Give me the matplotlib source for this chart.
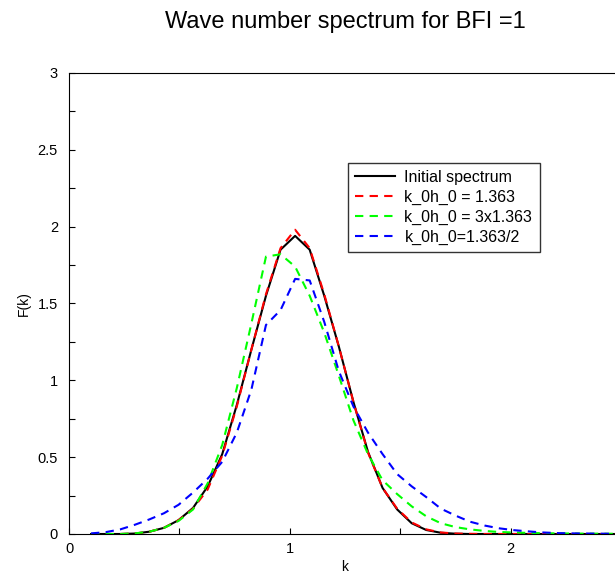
import numpy as np
import matplotlib
matplotlib.use("Agg")
import matplotlib.pyplot as plt
from matplotlib.ticker import MultipleLocator, FormatStrFormatter

plt.rcParams['font.family'] = ['Liberation Sans', 'DejaVu Sans']

# wave number grid
k = np.round(0.1 + 0.066 * np.arange(38), 3)

# initial spectrum
F_init = [0.0, 0.0, 0.0, 0.003, 0.015, 0.04, 0.09, 0.17, 0.31, 0.52,
          0.84, 1.2, 1.55, 1.85, 1.94, 1.85, 1.55, 1.22, 0.86, 0.535,
          0.30, 0.16, 0.07, 0.026, 0.008, 0.002, 0.0, 0.0, 0.0, 0.0,
          0.0, 0.0, 0.0, 0.0, 0.0, 0.0, 0.0, 0.0]

# k_0h_0 = 1.363
F_a = [0.0, 0.0, 0.0, 0.003, 0.015, 0.04, 0.09, 0.165, 0.29, 0.51,
       0.83, 1.2, 1.56, 1.86, 1.98, 1.86, 1.56, 1.22, 0.86, 0.53,
       0.30, 0.165, 0.075, 0.03, 0.01, 0.003, 0.001, 0.0, 0.0, 0.0,
       0.0, 0.0, 0.0, 0.0, 0.0, 0.0, 0.0, 0.0]

# k_0h_0 = 3x1.363
F_b = [0.0, 0.0, 0.0, 0.004, 0.015, 0.04, 0.085, 0.16, 0.33, 0.58,
       0.95, 1.37, 1.805, 1.82, 1.74, 1.55, 1.31, 1.03, 0.74, 0.52,
       0.35, 0.26, 0.18, 0.115, 0.07, 0.045, 0.03, 0.02, 0.013, 0.01,
       0.007, 0.005, 0.004, 0.003, 0.002, 0.002, 0.001, 0.001]

# k_0h_0 = 1.363/2
F_c = [0.004, 0.012, 0.03, 0.06, 0.095, 0.135, 0.19, 0.27, 0.36, 0.47,
       0.66, 0.94, 1.36, 1.457, 1.66, 1.65, 1.38, 1.06, 0.83, 0.66,
       0.52, 0.39, 0.31, 0.24, 0.165, 0.12, 0.08, 0.055, 0.037, 0.025,
       0.017, 0.01, 0.006, 0.004, 0.003, 0.002, 0.001, 0.0]

fig = plt.figure(figsize=(6.15, 5.81), dpi=100)
ax = fig.add_axes([0.1122, 0.0809, 0.8976, 0.7935])

ax.plot(k, F_init, color='black', lw=1.5, label='Initial spectrum')
ax.plot(k, F_a, color='red', lw=1.5, dashes=(4, 3), label='k_0h_0 = 1.363')
ax.plot(k, F_b, color='#00ff00', lw=1.5, dashes=(4, 3), label='k_0h_0 = 3x1.363')
ax.plot(k, F_c, color='blue', lw=1.5, dashes=(4, 3), label='k_0h_0=1.363/2')

ax.set_xlim(0, 2.5)
ax.set_ylim(0, 3)
ax.xaxis.set_major_locator(MultipleLocator(1))
ax.xaxis.set_minor_locator(MultipleLocator(0.5))
ax.yaxis.set_major_locator(MultipleLocator(0.5))
ax.yaxis.set_minor_locator(MultipleLocator(0.25))
ax.xaxis.set_major_formatter(FormatStrFormatter('%g'))
ax.yaxis.set_major_formatter(FormatStrFormatter('%g'))
ax.tick_params(which='both', direction='in', length=4, width=0.8)
ax.tick_params(axis='y', pad=8, labelsize=10.5)
ax.tick_params(axis='x', pad=6, labelsize=10.5)
ax.set_xlabel('k', fontsize=10, labelpad=3)
ax.set_ylabel('F(k)', fontsize=10, labelpad=5)

leg = ax.legend(loc='upper left', bbox_to_anchor=(0.505, 0.805), fontsize=11.5,
                frameon=True, fancybox=False, edgecolor='black',
                handlelength=2.5, handletextpad=0.6, labelspacing=0.3,
                borderpad=0.45, borderaxespad=0)
leg.get_frame().set_linewidth(1.0)

fig.text(0.561, 0.952, 'Wave number spectrum for BFI =1', ha='center',
         va='baseline', fontsize=17)

fig.savefig('out.png', dpi=100)
